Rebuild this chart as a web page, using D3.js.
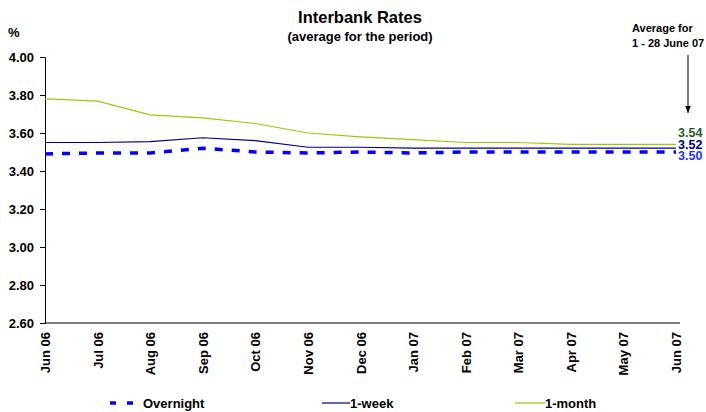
<!DOCTYPE html>
<html>
<head>
<meta charset="utf-8">
<script src="https://cdn.jsdelivr.net/npm/d3@7"></script>
<style>
  body { margin: 0; background: #fff; }
  text { font-family: "Liberation Sans", Arial, sans-serif; font-weight: bold; }
</style>
</head>
<body>
<svg id="chart"></svg>
<script>
const width = 706;
const height = 412;

// Data
const months = ["Jun 06", "Jul 06", "Aug 06", "Sep 06", "Oct 06", "Nov 06", "Dec 06",
  "Jan 07", "Feb 07", "Mar 07", "Apr 07", "May 07", "Jun 07"];
const overnight = [3.49, 3.495, 3.495, 3.52, 3.50, 3.495, 3.50, 3.495, 3.50, 3.50, 3.50, 3.50, 3.50];
const oneWeek = [3.55, 3.55, 3.555, 3.575, 3.56, 3.525, 3.525, 3.52, 3.52, 3.52, 3.52, 3.52, 3.52];
const oneMonth = [3.78, 3.768, 3.695, 3.68, 3.65, 3.60, 3.58, 3.565, 3.55, 3.55, 3.54, 3.54, 3.54];
const yTicks = [2.60, 2.80, 3.00, 3.20, 3.40, 3.60, 3.80, 4.00];
const endLabels = ["3.54", "3.52", "3.50"];

const svg = d3.select("#chart")
  .attr("width", width)
  .attr("height", height);

// Scales
const xScale = d3.scalePoint()
  .domain(months)
  .range([45, 676]);

const yScale = d3.scaleLinear()
  .domain([2.6, 4.0])
  .range([323, 57]);

// Title
svg.append("text")
  .attr("x", 360).attr("y", 23)
  .attr("text-anchor", "middle")
  .style("font-size", "16.5px")
  .text("Interbank Rates");
svg.append("text")
  .attr("x", 360).attr("y", 41)
  .attr("text-anchor", "middle")
  .style("font-size", "13px")
  .text("(average for the period)");
svg.append("text")
  .attr("x", 8).attr("y", 37)
  .style("font-size", "13px")
  .text("%");

// Y axis
const yAxis = d3.axisLeft(yScale)
  .tickValues(yTicks)
  .tickFormat(d3.format(".2f"))
  .tickSize(5)
  .tickPadding(6);

svg.append("g")
  .attr("transform", "translate(45,0)")
  .call(yAxis)
  .call(g => g.select(".domain").attr("stroke", "#000"))
  .call(g => g.selectAll("text").style("font-size", "13px").style("font-weight", "bold").attr("fill", "#000"));

// X axis
const xAxis = d3.axisBottom(xScale).tickSize(0).tickPadding(6);
svg.append("g")
  .attr("transform", "translate(0,323)")
  .call(xAxis)
  .call(g => g.select(".domain").attr("d", "M45,0H680").attr("stroke", "#000"))
  .call(g => g.selectAll("text")
    .style("font-size", "13px")
    .style("font-weight", "bold")
    .attr("fill", "#000")
    .attr("text-anchor", "end")
    .attr("transform", "rotate(-90)")
    .attr("x", -9)
    .attr("y", 0)
    .attr("dy", "0.35em"));

// Lines
const line = d3.line()
  .x((d, i) => xScale(months[i]))
  .y(d => yScale(d));

svg.append("path")
  .datum(oneMonth)
  .attr("fill", "none")
  .attr("stroke", "#99cc00")
  .attr("stroke-width", 1.2)
  .attr("d", line);

svg.append("path")
  .datum(oneWeek)
  .attr("fill", "none")
  .attr("stroke", "#000080")
  .attr("stroke-width", 1.2)
  .attr("d", line);

svg.append("path")
  .datum(overnight)
  .attr("fill", "none")
  .attr("stroke", "#0000ff")
  .attr("stroke-width", 3.5)
  .attr("stroke-dasharray", "8,9")
  .attr("d", line);

// End labels
const endColors = ["#1f5c1f", "#000080", "#1a33ff"];
const endY = [137, 148.5, 160];
svg.selectAll(".end-label")
  .data(endLabels)
  .enter()
  .append("text")
  .attr("class", "end-label")
  .attr("x", 678)
  .attr("y", (d, i) => endY[i])
  .attr("fill", (d, i) => endColors[i])
  .style("font-size", "12.5px")
  .text(d => d);

// Annotation
svg.append("text")
  .attr("x", 632).attr("y", 32)
  .style("font-size", "11px")
  .text("Average for");
svg.append("text")
  .attr("x", 632).attr("y", 47)
  .style("font-size", "11px")
  .text("1 - 28 June 07");

svg.append("defs").append("marker")
  .attr("id", "arrow")
  .attr("viewBox", "0 0 10 10")
  .attr("refX", 10).attr("refY", 5)
  .attr("markerWidth", 7).attr("markerHeight", 7)
  .attr("orient", "auto")
  .append("path")
  .attr("d", "M0,1L10,5L0,9Z")
  .attr("fill", "#000");

svg.append("line")
  .attr("x1", 688).attr("y1", 55)
  .attr("x2", 688).attr("y2", 113)
  .attr("stroke", "#000")
  .attr("stroke-width", 1)
  .attr("marker-end", "url(#arrow)");

// Legend
const legend = [
  { name: "Overnight", color: "#0000ff", width: 3.5, dash: "6,11", x1: 110, x2: 134, tx: 143 },
  { name: "1-week", color: "#000080", width: 1.2, dash: null, x1: 322, x2: 350, tx: 350 },
  { name: "1-month", color: "#99cc00", width: 1.2, dash: null, x1: 515, x2: 545, tx: 545 }
];
const lg = svg.selectAll(".legend")
  .data(legend)
  .enter()
  .append("g")
  .attr("class", "legend");
lg.append("line")
  .attr("x1", d => d.x1).attr("x2", d => d.x2)
  .attr("y1", 403).attr("y2", 403)
  .attr("stroke", d => d.color)
  .attr("stroke-width", d => d.width)
  .attr("stroke-dasharray", d => d.dash);
lg.append("text")
  .attr("x", d => d.tx).attr("y", 408)
  .style("font-size", "13px")
  .text(d => d.name);
</script>
</body>
</html>
